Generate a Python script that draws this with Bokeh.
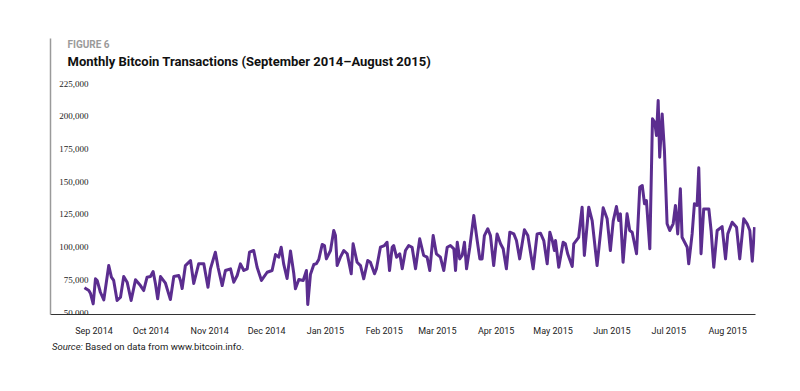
import pandas as pd
from bokeh.plotting import figure
from bokeh.layouts import column
from bokeh.models import Range1d, FixedTicker, Label, LabelSet, ColumnDataSource, DatetimeTickFormatter, Div
from bokeh.embed import file_html
from bokeh.resources import INLINE

# ---- data ----
start_date = "2014-09-01"
day_offsets = [
    -5.0, -2.7, -1.8, -0.4, 0.8, 1.7, 3.4, 5.2, 7.8, 9.2, 10.4, 12.2, 14.0, 15.7, 17.5, 19.6,
    21.9, 24.5, 26.2, 28.0, 29.8, 31.2, 32.4, 33.6, 35.1, 37.7, 40.3, 42.1, 44.7, 45.6, 46.5,
    48.2, 50.9, 52.6, 55.2, 57.9, 60.1, 61.4, 64.0, 65.4, 67.6, 69.3, 72.0, 73.7, 75.5, 77.2,
    79.0, 80.8, 82.0, 84.2, 86.0, 88.3, 91.3, 93.9, 95.7, 97.4, 98.7, 100.0, 101.8, 103.6,
    105.3, 106.2, 108.0, 110.3, 112.0, 112.7, 114.1, 115.9, 117.3, 118.5, 120.3, 121.5, 122.5,
    124.7, 126.4, 127.3, 128.2, 129.9, 131.7, 133.5, 135.6, 136.6, 138.7, 140.5, 142.2, 144.3,
    145.7, 147.9, 148.9, 151.0, 153.1, 154.5, 155.8, 157.2, 158.0, 159.5, 161.2, 162.5, 164.2,
    165.9, 167.7, 169.5, 171.7, 173.8, 175.6, 177.0, 178.8, 180.5, 182.6, 184.4, 186.2, 187.9,
    189.7, 190.6, 191.5, 192.8, 194.1, 195.3, 196.4, 198.1, 200.2, 202.0, 203.4, 204.6, 205.8,
    207.6, 209.0, 210.7, 212.5, 214.3, 215.7, 217.4, 219.2, 221.3, 222.7, 224.4, 226.9, 228.7,
    231.5, 233.6, 235.4, 237.1, 238.9, 240.3, 241.6, 242.7, 243.3, 245.0, 247.3, 248.5, 249.7,
    252.1, 252.9, 255.5, 257.3, 258.5, 260.8, 262.6, 265.2, 268.4, 270.5, 272.2, 273.7, 275.4,
    276.6, 277.5, 278.9, 281.0, 282.4, 283.7, 286.0, 287.7, 289.0, 290.2, 291.2, 293.0, 294.4,
    295.6, 296.5, 297.4, 298.2, 299.5, 300.7, 302.1, 303.5, 305.3, 306.5, 307.7, 309.1, 310.0,
    312.7, 313.5, 315.3, 316.5, 317.9, 318.8, 320.0, 321.4, 324.1, 325.3, 326.7, 328.5, 331.1,
    332.9, 334.1, 336.4, 338.7, 340.4, 342.5, 344.3, 345.7, 347.0, 348.2,
]
transactions = [
    68900, 66800, 64500, 56600, 75800, 74500, 65500, 59700, 85900, 77000, 74500, 59200, 61700, 77500, 73200, 59200,
    75000, 70600, 66800, 77000, 77500, 81300, 72200, 60500, 77500, 72400, 59900, 77500, 78300, 74500, 68300,
    85900, 89700, 72200, 87200, 87200, 69300, 83400, 96100, 84600, 70600, 82100, 83400, 73200, 78300, 87200,
    82100, 83400, 96100, 97400, 84600, 74500, 80800, 82100, 94300, 92300, 99900, 87200, 76000, 97000,
    80200, 68100, 75200, 74500, 82100, 56100, 79000, 86700, 87400, 90500, 102000, 101200, 91000,
    97400, 112700, 108800, 85900, 92300, 97400, 94900, 79600, 102500, 88400, 85900, 75800, 89700,
    88400, 79600, 83400, 99900, 101200, 103700, 82100, 99900, 101200, 92300, 94900, 83400, 97400,
    101200, 99900, 83400, 106300, 93600, 92300, 82100, 108800, 94900, 92300, 82100, 99900, 101200,
    98700, 82100, 103700, 91000, 93600, 103700, 83400, 99900, 124100, 105000, 91000, 91000, 108800,
    114000, 108800, 85900, 110100, 102500, 98700, 83400, 111400, 110100, 105000, 91000, 113200, 108800,
    83400, 110100, 110600, 105000, 87200, 111400, 105000, 97400, 105000, 84600, 103700, 102500, 94900,
    85200, 102500, 107500, 130500, 93600, 130500, 120300, 85900, 130000, 121600, 97400, 119800, 131000,
    120300, 125400, 88400, 125400, 112700, 111400, 94900, 145800, 147100, 133100, 135600, 98700, 198000,
    195400, 185300, 212000, 168700, 201800, 173800, 117800, 112700, 117800, 131800, 110100, 144500, 107500,
    99900, 87200, 110100, 133100, 131800, 160600, 94900, 129200, 129200, 112700, 84600, 112700, 115700,
    91000, 110100, 119000, 115200, 91000, 121600, 117800, 112700, 89200, 115200,
]
month_starts = ["2014-09-01", "2014-10-01", "2014-11-01", "2014-12-01", "2015-01-01", "2015-02-01",
                "2015-03-01", "2015-04-01", "2015-05-01", "2015-06-01", "2015-07-01", "2015-08-01"]
y_tick_values = [50000, 75000, 100000, 125000, 150000, 175000, 200000, 225000]
y_tick_labels = ["50,000", "75,000", "100,000", "125,000", "150,000", "175,000", "200,000", "225,000"]
title_text = "Monthly Bitcoin Transactions (September 2014\u2013August 2015)"
figure_text = "FIGURE 6"
source_lead = "Source:"
source_text = "Based on data from www.bitcoin.info."

FONT = "Roboto"
LINE_COLOR = "#5b2d8f"

t0 = pd.Timestamp(start_date)
dates = t0 + pd.to_timedelta(day_offsets, unit="D")

p = figure(width=800, height=338, x_axis_type="datetime",
           output_backend="svg", toolbar_location=None,
           x_range=Range1d(t0 - pd.Timedelta(days=22.9), t0 + pd.Timedelta(days=348.7)),
           y_range=Range1d(48500, 259400),
           min_border_left=50, min_border_right=45, min_border_top=38, min_border_bottom=24)
p.outline_line_color = None
p.xgrid.visible = False
p.ygrid.visible = False
p.background_fill_color = "white"
p.border_fill_color = "white"

# y axis: only the vertical grey rule
p.yaxis.ticker = FixedTicker(ticks=[])
p.yaxis.major_tick_line_color = None
p.yaxis.minor_tick_line_color = None
p.yaxis.axis_line_color = "#9a9a9a"
p.yaxis.axis_line_width = 1.5
p.yaxis.major_label_standoff = 0

# x axis
tick_ms = [pd.Timestamp(m).value / 1e6 for m in month_starts]
p.xaxis.ticker = FixedTicker(ticks=tick_ms)
fmt = "%b %Y"
p.xaxis.formatter = DatetimeTickFormatter(milliseconds=fmt, seconds=fmt, minsec=fmt, minutes=fmt,
                                          hourmin=fmt, hours=fmt, days=fmt, months=fmt, years=fmt)
p.xaxis.axis_line_color = "#333333"
p.xaxis.axis_line_width = 1.2
p.xaxis.major_tick_line_color = None
p.xaxis.minor_tick_line_color = None
p.xaxis.major_label_standoff = 5
p.xaxis.major_label_text_font = FONT
p.xaxis.major_label_text_font_size = "9px"
p.xaxis.major_label_text_color = "#222222"

p.line(dates, transactions, line_color=LINE_COLOR, line_width=3, line_join="round")

# y tick labels inside the frame
ysrc = ColumnDataSource(dict(y=y_tick_values, text=y_tick_labels))
p.add_layout(LabelSet(x=38, y="y", text="text", source=ysrc, x_units="screen",
                      text_align="right", text_baseline="middle",
                      text_font=FONT, text_font_size="9px", text_color="#222222"))

# titles
p.add_layout(Label(x=17, y=270, x_units="screen", y_units="screen", text=figure_text,
                   text_font=FONT, text_font_size="10px", text_font_style="bold",
                   text_color="#9a9a9a", text_baseline="middle"))
p.add_layout(Label(x=17, y=253, x_units="screen", y_units="screen", text=title_text,
                   text_font=FONT, text_font_size="13px", text_font_style="bold",
                   text_color="#111111", text_baseline="middle"))

# source line
source = Div(text=f"<i>{source_lead}</i> {source_text}", width=500, height=20,
             margin=(3, 0, 0, 52),
             styles={"font-family": FONT, "font-size": "9.5px", "color": "#222222",
                     "line-height": "12px"})

layout = column(p, source, spacing=0)
open("out.html", "w").write(file_html(layout, INLINE))
